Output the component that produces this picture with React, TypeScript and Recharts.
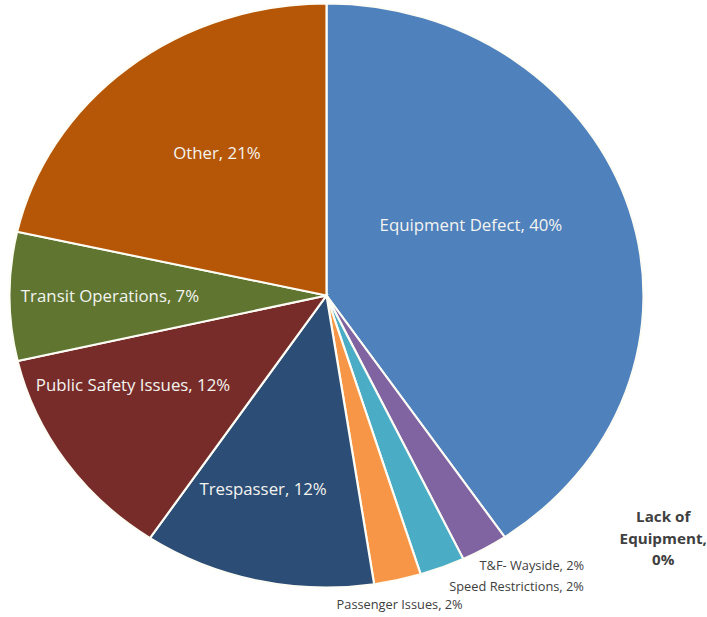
import { PieChart, Pie, Cell } from 'recharts'

// clockwise from 12 o'clock
const CATEGORIES = [
  'Equipment Defect',
  'Lack of Equipment',
  'T&F- Wayside',
  'Speed Restrictions',
  'Passenger Issues',
  'Trespasser',
  'Public Safety Issues',
  'Transit Operations',
  'Other',
]
const SHARES = [40.5, 0, 2.4, 2.3, 2.4, 11.8, 12.0, 7.1, 21.5]
const SHARE_LABELS = ['40%', '0%', '2%', '2%', '2%', '12%', '12%', '7%', '21%']
const COLORS = [
  '#4f81bd',
  '#c0504d',
  '#8064a2',
  '#4bacc6',
  '#f79646',
  '#2c4d75',
  '#772c2a',
  '#5f7530',
  '#b65708',
]

const data = CATEGORIES.map((name, i) => ({ name, value: SHARES[i], pct: SHARE_LABELS[i] }))

const WIDTH = 707
const HEIGHT = 617
const CX = 326.5
const CY = 295.5
const RADIUS = 292
// the original image is stretched sideways a little
const STRETCH_X = 1.0856
const FONT = '"Open Sans", "Noto Sans", sans-serif'
const RAD = Math.PI / 180

interface LabelStyle {
  r: number
  shift: number
  anchor: 'start' | 'middle' | 'end'
  size: number
  bold?: boolean
  fill: string
  lines?: boolean
}

const INSIDE = '#f4f4f0'
const OUTSIDE = '#404040'

const LABEL_LAYOUT: Record<string, LabelStyle> = {
  'Equipment Defect': { r: 0.516, shift: -10.9, anchor: 'middle', size: 15.5, fill: INSIDE },
  'Lack of Equipment': { r: 1.348, shift: -17.8, anchor: 'middle', size: 14, bold: true, fill: OUTSIDE, lines: true },
  'T&F- Wayside': { r: 1.232, shift: -11.4, anchor: 'end', size: 11.8, fill: OUTSIDE },
  'Speed Restrictions': { r: 1.287, shift: -17.7, anchor: 'end', size: 11.8, fill: OUTSIDE },
  'Passenger Issues': { r: 1.144, shift: -9.1, anchor: 'end', size: 11.8, fill: OUTSIDE },
  Trespasser: { r: 0.692, shift: 4.2, anchor: 'middle', size: 15.5, fill: INSIDE },
  'Public Safety Issues': { r: 0.683, shift: 7.9, anchor: 'middle', size: 15.5, fill: INSIDE },
  'Transit Operations': { r: 0.683, shift: 0, anchor: 'middle', size: 15.5, fill: INSIDE },
  Other: { r: 0.598, shift: 3.4, anchor: 'middle', size: 15.5, fill: INSIDE },
}

function renderLabel(props: any) {
  const { cx, cy, midAngle, outerRadius, index } = props
  const item = data[index]
  const layout = LABEL_LAYOUT[item.name]
  const angle = midAngle - layout.shift
  const r = outerRadius * layout.r
  const x = cx + r * Math.cos(-angle * RAD)
  const y = cy + r * Math.sin(-angle * RAD)
  const common = {
    textAnchor: layout.anchor,
    fill: layout.fill,
    fontSize: layout.size,
    fontWeight: layout.bold ? 700 : 400,
    fontFamily: FONT,
  }
  if (layout.lines) {
    const words = item.name.split(' ')
    const rows = [words.slice(0, 2).join(' '), words.slice(2).join(' ') + ',', item.pct]
    return (
      <text key={item.name} x={x} y={y - 21.5} dominantBaseline="central" {...common}>
        {rows.map((row, i) => (
          <tspan key={i} x={x} dy={i === 0 ? 0 : 21.5}>
            {row}
          </tspan>
        ))}
      </text>
    )
  }
  return (
    <text key={item.name} x={x} y={y} dominantBaseline="central" {...common}>
      {`${item.name}, ${item.pct}`}
    </text>
  )
}

export default function App() {
  return (
    <div
      style={{
        position: 'absolute',
        left: 0,
        top: 0,
        width: WIDTH,
        height: HEIGHT,
        overflow: 'hidden',
        background: '#fff',
      }}
    >
      <div style={{ transform: `scaleX(${STRETCH_X})`, transformOrigin: `${CX}px 0` }}>
        <PieChart width={WIDTH} height={HEIGHT} margin={{ top: 0, right: 0, bottom: 0, left: 0 }}>
          <Pie
            data={data}
            dataKey="value"
            nameKey="name"
            cx={CX}
            cy={CY}
            outerRadius={RADIUS}
            startAngle={90}
            endAngle={-270}
            stroke="#fdfdf5"
            strokeWidth={2}
            label={renderLabel}
            labelLine={false}
            isAnimationActive={false}
          >
            {data.map((d, i) => (
              <Cell key={d.name} fill={COLORS[i]} />
            ))}
          </Pie>
        </PieChart>
      </div>
    </div>
  )
}
